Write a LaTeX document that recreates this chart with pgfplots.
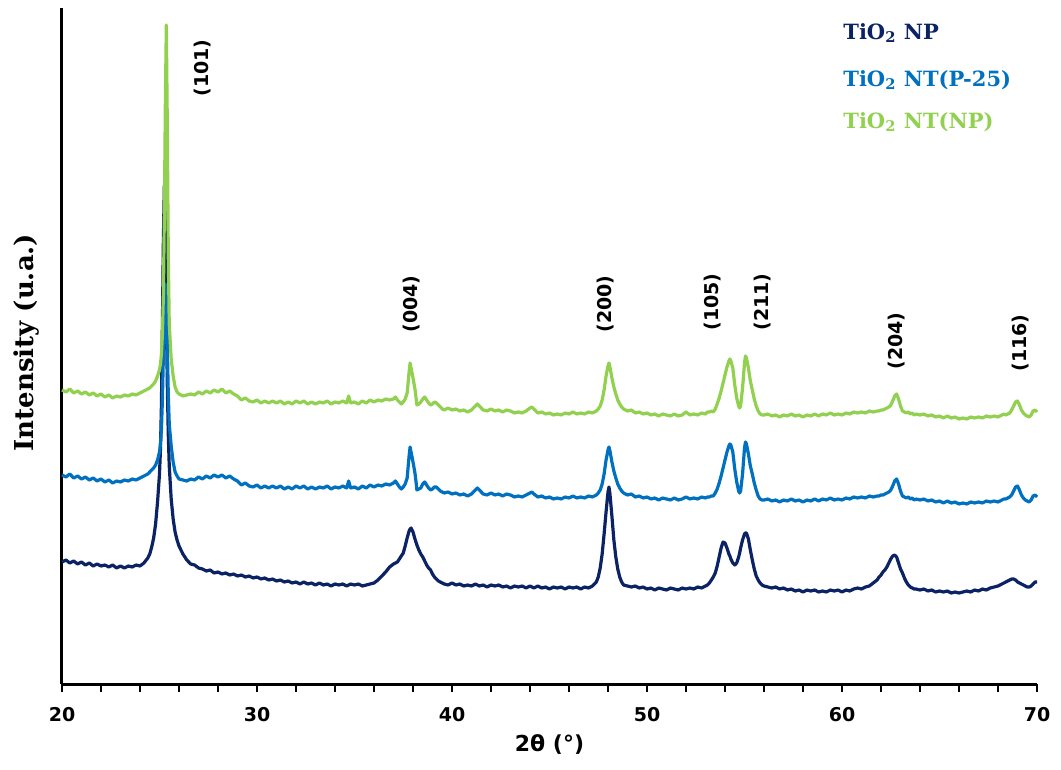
\documentclass[border=0pt]{standalone}
\usepackage{fontspec}
\setmainfont{DejaVu Serif}
\setsansfont{DejaVu Sans}
\usepackage{pgfplots}
\pgfplotsset{compat=1.18}
\usepackage{pgfplotstable}
\definecolor{cnp}{HTML}{0B2265}
\definecolor{cpt}{HTML}{0070C0}
\definecolor{cnt}{HTML}{92D050}

\pgfplotstableread{
x np p25 nt
20.0 122 209 294
20.2 124 207 292
20.4 121 210 295
20.6 123 206 291
20.8 120 208 293
21.0 122 205 290
21.2 119 207 292
21.4 121 204 289
21.6 118 206 291
21.8 120 203 288
22.0 118 205 290
22.2 119 202 287
22.4 117 204 289
22.6 119 201 286
22.8 116 203 288
23.0 118 202 287
23.2 116 204 289
23.4 118 203 288
23.6 117 205 290
23.8 119 204 289
24.0 118 206 291
24.2 121 208 293
24.4 126 210 295
24.5 130 212 296
24.6 137 214 298
24.7 146 216 300
24.8 160 219 303
24.9 182 224 308
25.0 210 232 314
25.05 235 240 320
25.1 280 255 330
25.15 360 285 350
25.2 445 330 390
25.25 499 370 470
25.3 455 400 580
25.35 375 390 659
25.4 300 340 560
25.45 250 290 430
25.5 218 260 360
25.6 185 238 325
25.7 165 222 308
25.8 152 212 297
25.9 144 208 292
26.0 138 205 290
26.2 130 204 288
26.4 124 203 289
26.6 120 205 290
26.8 119 204 289
27.0 116 207 292
27.2 115 205 290
27.4 113 208 293
27.6 114 206 291
27.8 111 209 294
28.0 112 207 292
28.2 110 209 295
28.4 111 206 291
28.6 109 208 293
28.8 110 205 290
29.0 108 203 288
29.2 109 199 284
29.4 107 201 286
29.6 108 198 283
29.8 106 197 282
30.0 107 199 284
30.2 105 196 281
30.4 106 198 283
30.6 104 196 281
30.8 105 198 283
31.0 103 196 281
31.2 104 198 283
31.4 102 195 280
31.6 103 197 282
31.8 101 195 280
32.0 102 198 283
32.2 100 196 281
32.4 102 198 283
32.6 100 195 280
32.8 101 197 282
33.0 99 195 280
33.2 101 197 282
33.4 99 196 281
33.6 100 198 283
33.8 98 195 280
34.0 100 197 282
34.2 99 196 281
34.4 100 198 283
34.6 98 196 281
34.7 99 203 288
34.8 100 196 281
35.0 99 197 282
35.2 100 195 280
35.4 98 198 283
35.6 99 196 281
35.8 100 199 284
36.0 101 197 282
36.2 104 199 284
36.4 108 198 283
36.6 112 200 285
36.8 117 199 284
37.0 120 201 285
37.1 121 203 287
37.2 122 200 284
37.3 125 197 282
37.4 128 195 280
37.5 131 197 282
37.6 138 200 285
37.7 146 206 291
37.8 153 228 312
37.85 155 237 321
37.9 156 232 316
38.0 152 222 306
38.1 145 211 295
38.15 142 203 287
38.2 139 194 279
38.3 134 195 280
38.4 130 196 282
38.5 127 200 285
38.6 123 202 287
38.7 119 199 284
38.8 116 196 281
38.9 114 194 279
39.0 110 195 280
39.1 107 197 282
39.2 105 197 281
39.3 103 195 279
39.4 102 193 277
39.5 101 192 275
39.6 100 191 274
39.8 99 192 276
40.0 101 190 274
40.2 99 191 275
40.4 100 189 273
40.6 98 190 274
40.8 99 188 272
41.0 98 190 274
41.2 100 194 278
41.3 99 196 280
41.4 98 194 278
41.6 99 190 274
41.8 97 189 273
42.0 99 191 275
42.2 98 189 273
42.4 99 190 274
42.6 97 188 272
42.8 98 190 274
43.0 96 189 273
43.2 98 187 271
43.4 97 188 272
43.6 98 187 271
43.8 96 189 273
44.0 98 191 276
44.1 97 192 277
44.2 96 190 275
44.4 98 187 271
44.6 96 188 272
44.8 97 186 270
45.0 95 187 271
45.2 97 185 269
45.4 96 186 270
45.6 97 185 269
45.8 95 187 271
46.0 97 186 270
46.2 96 188 272
46.4 97 186 270
46.6 95 187 271
46.8 97 186 270
47.0 96 188 272
47.2 98 187 271
47.4 102 189 273
47.5 107 191 275
47.6 116 194 278
47.7 130 200 284
47.8 150 210 294
47.9 172 224 308
48.0 192 234 318
48.05 197 237 321
48.1 190 233 317
48.2 168 222 306
48.3 144 213 297
48.4 127 206 290
48.5 115 200 284
48.6 107 196 280
48.7 102 193 277
48.8 99 191 275
49.0 98 189 273
49.2 97 190 274
49.4 98 187 271
49.6 96 188 272
49.8 97 186 270
50.0 95 187 271
50.2 96 185 269
50.4 94 186 270
50.6 96 184 268
50.8 95 186 270
51.0 94 185 269
51.2 96 184 268
51.4 95 186 270
51.6 94 184 268
51.8 96 185 269
52.0 95 187 272
52.2 96 185 269
52.4 95 186 270
52.6 97 185 269
52.8 96 187 271
53.0 98 186 270
53.1 99 187 272
53.2 101 187 272
53.3 104 188 273
53.4 107 188 272
53.5 111 191 275
53.6 118 195 280
53.7 127 201 286
53.8 136 208 293
53.9 142 216 301
54.0 141 224 309
54.1 136 232 317
54.2 130 238 323
54.25 128 240 325
54.3 125 239 323
54.4 121 232 316
54.5 119 215 299
54.6 121 202 286
54.7 127 193 278
54.75 131 191 276
54.8 136 193 278
54.9 144 210 296
55.0 150 236 321
55.05 151 242 328
55.1 151 240 326
55.2 145 230 316
55.3 134 218 303
55.4 124 210 294
55.5 115 201 285
55.6 108 194 278
55.7 104 188 273
55.8 101 185 270
55.9 99 184 269
56.0 98 184 269
56.2 97 185 270
56.4 96 183 268
56.6 97 184 269
56.8 95 182 267
57.0 96 184 269
57.2 94 183 268
57.4 95 185 270
57.6 93 183 268
57.8 94 184 269
58.0 92 182 267
58.2 94 184 269
58.4 93 183 268
58.6 94 185 270
58.8 92 183 268
59.0 93 185 270
59.2 92 184 269
59.4 94 186 271
59.6 93 184 269
59.8 94 185 270
60.0 92 184 269
60.2 94 186 271
60.4 93 185 270
60.6 95 187 272
60.8 96 186 271
61.0 95 187 272
61.2 97 186 271
61.4 98 188 273
61.6 101 187 272
61.8 104 188 273
61.9 107 188 273
62.0 109 189 274
62.1 112 189 274
62.2 114 190 275
62.3 117 191 276
62.4 121 192 277
62.5 125 194 279
62.6 128 198 283
62.7 129 203 288
62.8 127 205 290
62.9 121 200 285
63.0 115 193 278
63.1 111 188 273
63.2 106 187 272
63.3 102 186 271
63.4 99 187 272
63.5 97 185 270
63.6 96 186 271
63.7 95 184 269
63.8 95 185 270
64.0 94 184 269
64.2 95 185 270
64.4 93 183 268
64.6 94 184 269
64.8 92 182 267
65.0 93 183 268
65.2 92 181 266
65.4 93 183 268
65.6 91 181 266
65.8 92 182 267
66.0 91 180 265
66.2 92 181 266
66.4 93 180 265
66.6 92 182 267
66.8 94 181 266
67.0 93 182 267
67.2 95 181 266
67.4 94 183 268
67.6 96 182 267
67.8 97 183 268
68.0 98 182 267
68.2 100 184 269
68.3 101 185 270
68.4 102 185 269
68.5 103 186 270
68.6 104 187 271
68.7 105 189 274
68.8 105 193 278
68.9 104 197 282
69.0 102 198 283
69.1 101 194 279
69.2 100 189 274
69.3 99 186 271
69.4 98 184 269
69.5 97 183 268
69.6 97 182 267
69.7 98 184 269
69.8 100 188 273
69.9 102 189 274
70.0 102 187 272
}\xrd

\begin{document}
\begin{tikzpicture}
\begin{axis}[
  scale only axis, width=487.5pt, height=338pt,
  xmin=20, xmax=70, ymin=0, ymax=676,
  axis lines=left,
  axis line style={-, line width=1.5pt, black},
  ytick=\empty,
  xtick={20,30,...,70}, minor x tick num=4,
  tick align=outside,
  major tick length=4pt, minor tick length=4pt,
  tick style={black, line width=1pt},
  /pgf/number format/assume math mode=true,
  xticklabel style={font=\sffamily\bfseries\fontsize{9.5}{11}\selectfont, yshift=-4pt},
  xlabel={\sffamily\bfseries 2θ (°)},
  xlabel style={at={(axis description cs:0.5,-0.0902)}, anchor=center, font=\fontsize{11}{13}\selectfont},
  ylabel={\bfseries Intensity (u.a.)},
  ylabel style={at={(axis description cs:-0.036,0.505)}, anchor=center, font=\fontsize{13}{15}\selectfont},
  clip=false,
]
\addplot[cnp, line width=1.6pt, line join=round] table[x=x, y=np] {\xrd};
\addplot[cpt, line width=1.6pt, line join=round] table[x=x, y=p25] {\xrd};
\addplot[cnt, line width=1.6pt, line join=round] table[x=x, y=nt] {\xrd};
\tikzset{pk/.style={rotate=90, font=\sffamily\bfseries\fontsize{9.5}{11}\selectfont, inner sep=0pt}}
\node[pk] at (axis cs:27.23,616) {(101)};
\node[pk] at (axis cs:37.95,380) {(004)};
\node[pk] at (axis cs:47.85,380) {(200)};
\node[pk] at (axis cs:53.38,382) {(105)};
\node[pk] at (axis cs:55.95,382) {(211)};
\node[pk] at (axis cs:62.82,343) {(204)};
\node[pk] at (axis cs:69.13,341) {(116)};
\tikzset{lg/.style={anchor=west, inner sep=0pt, font=\bfseries\fontsize{10.5}{12}\selectfont}}
\node[lg, text=cnp] at (rel axis cs:0.801,0.963) {TiO\textsubscript{2} NP};
\node[lg, text=cpt] at (rel axis cs:0.801,0.893) {TiO\textsubscript{2} NT(P-25)};
\node[lg, text=cnt] at (rel axis cs:0.801,0.831) {TiO\textsubscript{2} NT(NP)};
\coordinate (sw) at (rel axis cs:0,0);
\coordinate (ne) at (rel axis cs:1,1);
\end{axis}
\pgfresetboundingbox
\path[use as bounding box] ([shift={(-31pt,-42.5pt)}]sw) rectangle ([shift={(12pt,4pt)}]ne);
\end{tikzpicture}
\end{document}
